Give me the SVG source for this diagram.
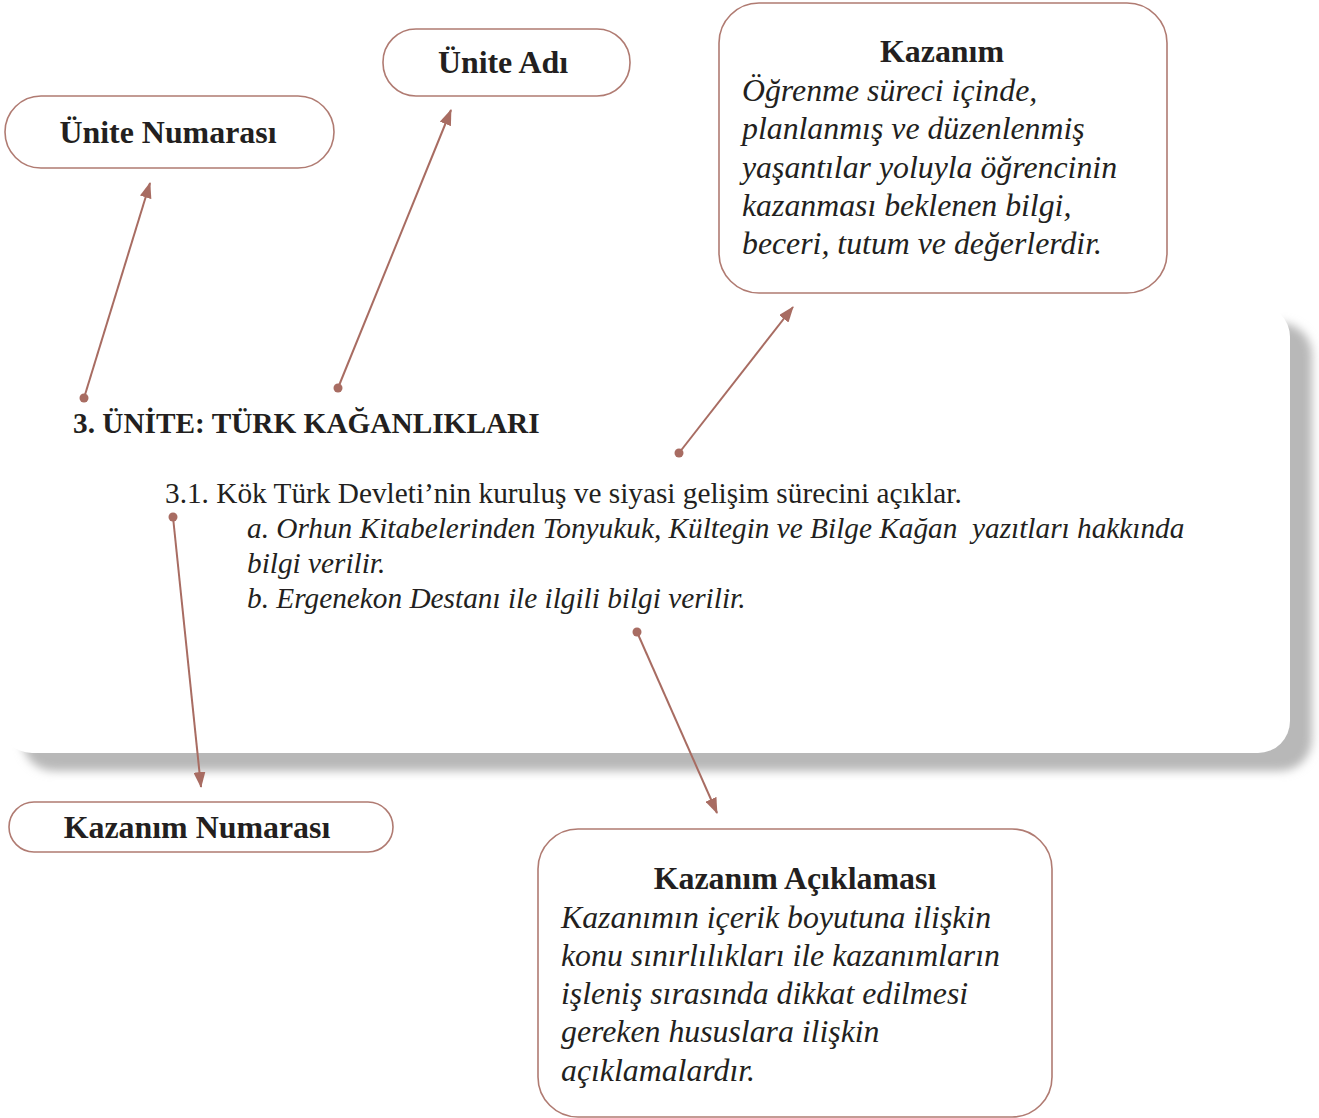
<svg xmlns="http://www.w3.org/2000/svg" width="1319" height="1118" viewBox="0 0 1319 1118">
<style>
.box{fill:#fff;stroke:#b07b72;stroke-width:1.6}
.h{font-family:"Liberation Serif",serif;font-weight:bold;font-size:31.9px;fill:#231f20;text-anchor:middle}
.it{font-family:"Liberation Serif",serif;font-style:italic;font-size:31.8px;fill:#231f20}
.b29{font-family:"Liberation Serif",serif;font-weight:bold;font-size:29.3px;fill:#231f20}
.r29{font-family:"Liberation Serif",serif;font-size:29.3px;fill:#231f20}
.i29{font-family:"Liberation Serif",serif;font-style:italic;font-size:29.3px;fill:#231f20}
.con{stroke:#a86c62;stroke-width:2;fill:none;marker-start:url(#dot);marker-end:url(#ah)}
</style>
<defs>
<marker id="ah" viewBox="0 0 16 12" refX="15" refY="6" markerWidth="16" markerHeight="12" markerUnits="userSpaceOnUse" orient="auto"><path d="M0,0 L16,6 L0,12 z" fill="#a86c62"/></marker>
<marker id="dot" viewBox="0 0 10 10" refX="5" refY="5" markerWidth="10" markerHeight="10" markerUnits="userSpaceOnUse"><circle cx="5" cy="5" r="4.5" fill="#a86c62"/></marker>
<filter id="blur" x="-5%" y="-10%" width="110%" height="120%"><feGaussianBlur stdDeviation="5"/></filter>
</defs>
<rect width="1319" height="1118" fill="#fff"/>
<g id="card">
<rect x="22" y="323" width="1290" height="448" rx="32" fill="#b8b8b8" filter="url(#blur)"/>
<rect x="0" y="305" width="1290" height="448" rx="32" fill="#fff"/>
<text class="b29" x="73" y="433">3. ÜNİTE: TÜRK KAĞANLIKLARI</text>
<text class="r29" x="165" y="503">3.1. Kök Türk Devleti’nin kuruluş ve siyasi gelişim sürecini açıklar.</text>
<text class="i29" x="247" y="538" xml:space="preserve">a. Orhun Kitabelerinden Tonyukuk, Kültegin ve Bilge Kağan  yazıtları hakkında</text>
<text class="i29" x="247" y="573">bilgi verilir.</text>
<text class="i29" x="247" y="608">b. Ergenekon Destanı ile ilgili bilgi verilir.</text>
</g>
<g id="unite-numarasi">
<rect class="box" x="5" y="96" width="329" height="72" rx="36"/>
<text class="h" x="168" y="143">Ünite Numarası</text>
</g>
<g id="unite-adi">
<rect class="box" x="383" y="29" width="247" height="67" rx="33"/>
<text class="h" x="503" y="73">Ünite Adı</text>
</g>
<g id="kazanim">
<rect class="box" x="719" y="3" width="448" height="290" rx="40"/>
<text class="h" x="942" y="62">Kazanım</text>
<text class="it" x="742" y="101">Öğrenme süreci içinde,</text>
<text class="it" x="742" y="139">planlanmış ve düzenlenmiş</text>
<text class="it" x="742" y="178">yaşantılar yoluyla öğrencinin</text>
<text class="it" x="742" y="216">kazanması beklenen bilgi,</text>
<text class="it" x="742" y="254">beceri, tutum ve değerlerdir.</text>
</g>
<g id="kazanim-numarasi">
<rect class="box" x="9" y="802" width="384" height="50" rx="25"/>
<text class="h" x="197" y="838">Kazanım Numarası</text>
</g>
<g id="kazanim-aciklamasi">
<rect class="box" x="538" y="829" width="514" height="288" rx="40"/>
<text class="h" x="795" y="889">Kazanım Açıklaması</text>
<text class="it" x="561" y="928">Kazanımın içerik boyutuna ilişkin</text>
<text class="it" x="561" y="966">konu sınırlılıkları ile kazanımların</text>
<text class="it" x="561" y="1004">işleniş sırasında dikkat edilmesi</text>
<text class="it" x="561" y="1042">gereken hususlara ilişkin</text>
<text class="it" x="561" y="1081">açıklamalardır.</text>
</g>
<g id="connectors">
<line class="con" x1="84" y1="398" x2="150" y2="183"/>
<line class="con" x1="338" y1="388" x2="451" y2="110"/>
<line class="con" x1="679" y1="453" x2="793" y2="307"/>
<line class="con" x1="173" y1="517" x2="201" y2="787"/>
<line class="con" x1="637" y1="632" x2="717" y2="813"/>
</g>
</svg>
